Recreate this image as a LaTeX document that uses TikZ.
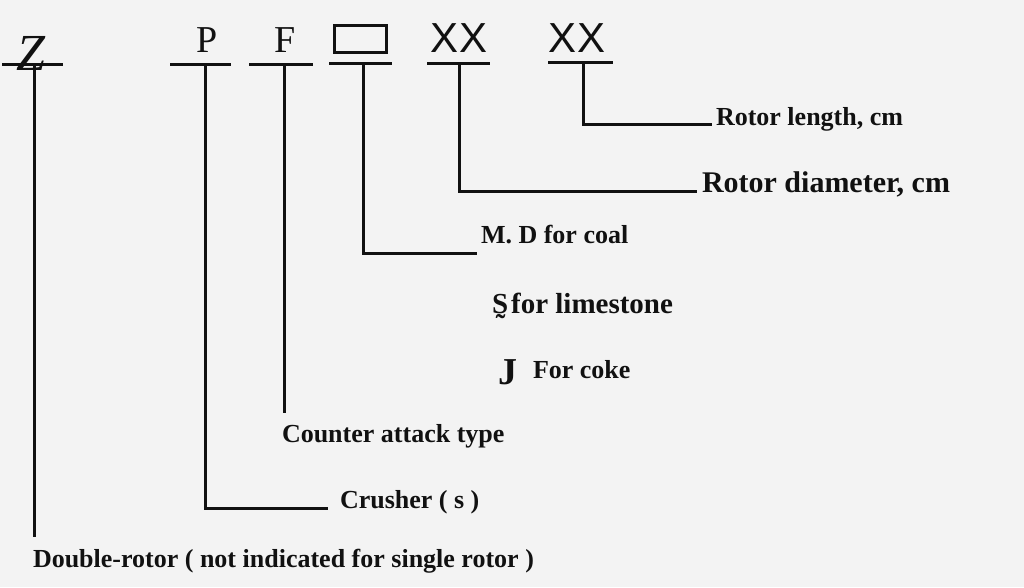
\documentclass[tikz,border=0pt]{standalone}
\usepackage{fontspec}
\setmainfont{Liberation Serif}
\newfontfamily\codesans{Liberation Sans}
\definecolor{codeInk}{HTML}{111111}
\definecolor{codePaper}{HTML}{F3F3F3}
\tikzset{
  code diagram/.style={
    x=1pt, y=-1pt,
    draw=codeInk, line width=3pt,
    every node/.style={inner sep=0pt, outer sep=0pt, text=codeInk}
  },
  code letter/.style={anchor=base, font=\fontsize{38}{40}\selectfont},
  code sans/.style={anchor=base, font=\codesans\fontsize{42}{44}\selectfont},
  code label/.style={anchor=base west, font=\bfseries\fontsize{26}{28}\selectfont}
}
\newcommand{\CodeBar}[5]{%
  \coordinate (#1 l) at (#2,#5);
  \coordinate (#1 r) at (#3,#5);
  \coordinate (#1) at (#4,#5);
  \draw (#1 l) -- (#1 r);
}

\begin{document}
\begin{tikzpicture}[code diagram]
    \fill[codePaper] (0,0) rectangle (1024,587);
    \node[code letter, font=\itshape\fontsize{52}{56}\selectfont] (z) at (31,70) {Z};
    \node[code letter] (p) at (207,52) {P};
    \node[code letter] (f) at (285,52) {F};
    \node[draw, line width=3pt, minimum width=52pt, minimum height=27pt] (box) at (360,38.5) {};
    \node[code sans] (xd) at (459,52) {XX};
    \node[code sans] (xl) at (577,52) {XX};
    \CodeBar{z bar}{2}{63}{34}{64}
    \CodeBar{p bar}{170}{231}{205}{64}
    \CodeBar{f bar}{249}{313}{284}{64}
    \CodeBar{b bar}{329}{392}{363}{63}
    \CodeBar{d bar}{427}{490}{459}{63}
    \CodeBar{l bar}{548}{613}{583}{62}
    \coordinate (z end) at (34,537);
    \coordinate (p end) at (328,508);
    \coordinate (f end) at (284,413);
    \coordinate (b end) at (477,253);
    \coordinate (d end) at (697,191);
    \coordinate (l end) at (712,124);
    \draw (z bar) -- (z end);
    \draw (p bar) |- (p end);
    \draw (f bar) -- (f end);
    \draw (b bar) |- (b end);
    \draw (d bar) |- (d end);
    \draw (l bar) |- (l end);
    \node[code label] (length) at (716,125) {Rotor length, cm};
    \node[code label, font=\bfseries\fontsize{30}{32}\selectfont] (diam) at (702,192) {Rotor diameter, cm};
    \node[code label] (coal) at (481,243) {M. D for coal};
    \node[code label, font=\bfseries\fontsize{29}{31}\selectfont] (lime) at (492,313) {S̰\kern3pt for limestone};
    \node[code label, font=\bfseries\fontsize{38}{40}\selectfont] (j) at (498,384) {J};
    \node[code label] (coke) at (533,378) {For coke};
    \node[code label] (type) at (282,442) {Counter attack type};
    \node[code label] (crusher) at (340,508) {Crusher ( s )};
    \node[code label] (double) at (33,567) {Double-rotor ( not indicated for single rotor )};
\end{tikzpicture}
\end{document}
